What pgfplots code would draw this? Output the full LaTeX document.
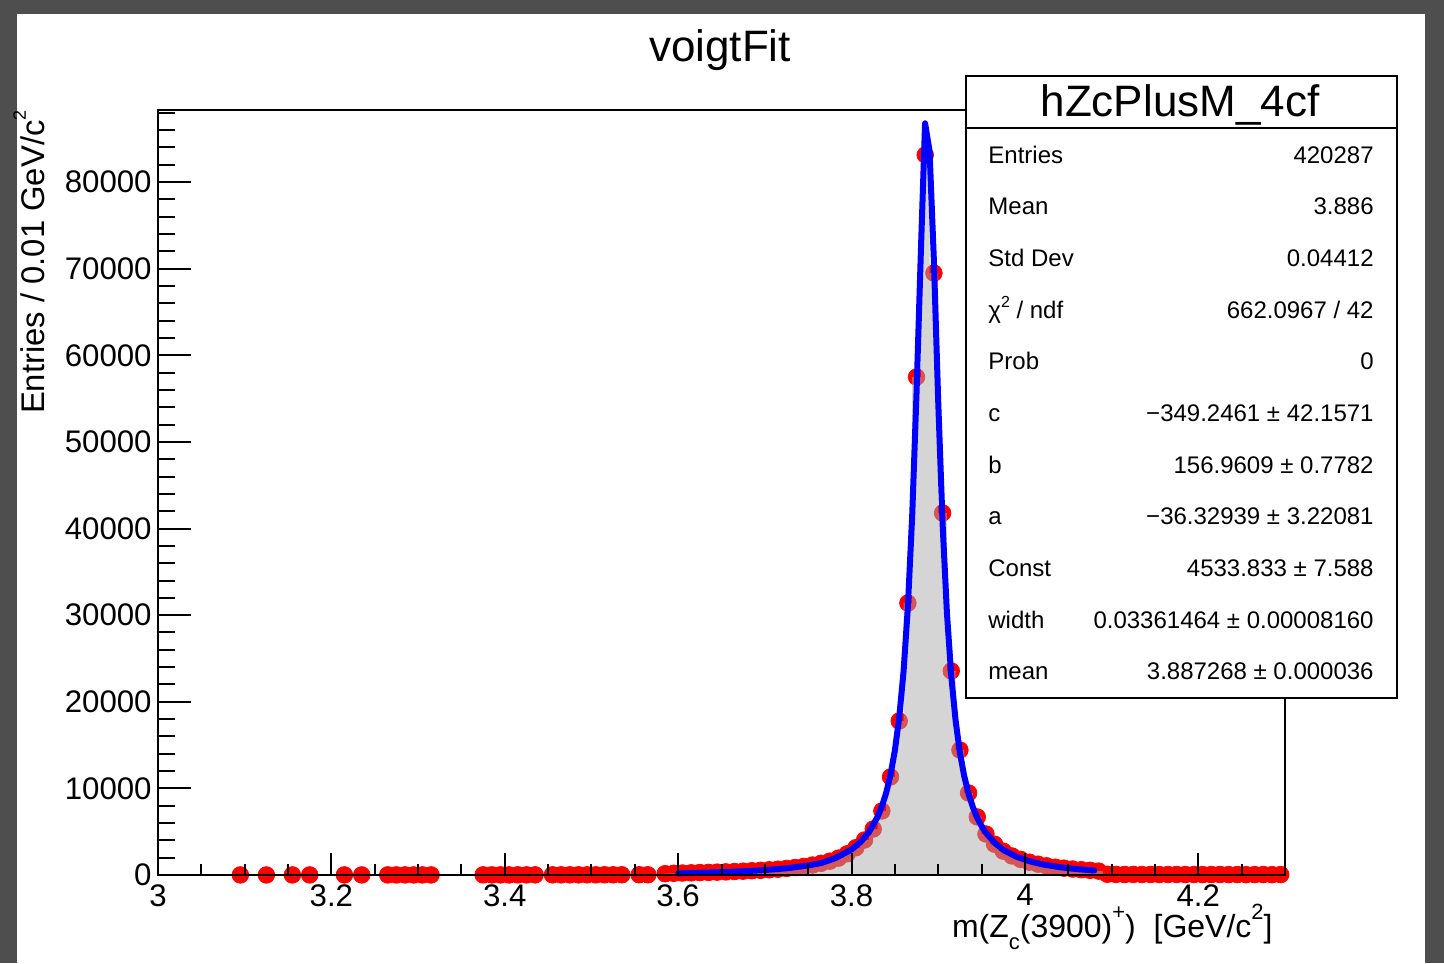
\documentclass[border=0pt]{standalone}
\usepackage{pgfplots}
\pgfplotsset{compat=1.18}
\usepackage{pgfplotstable}
\usepackage{fontspec}
\setmainfont{Liberation Sans}
\definecolor{bgdark}{RGB}{78,78,78}
\definecolor{rootred}{RGB}{255,0,0}
\definecolor{rootblue}{RGB}{0,0,255}

\pgfplotstableread{
x y
3.095 8
3.125 6
3.155 9
3.175 7
3.215 10
3.235 8
3.265 12
3.275 10
3.285 14
3.295 11
3.305 13
3.315 9
3.375 15
3.385 12
3.395 16
3.405 14
3.415 18
3.425 15
3.435 17
3.455 20
3.465 18
3.475 22
3.485 19
3.495 24
3.505 21
3.515 25
3.525 23
3.535 26
3.555 30
3.565 28
}\lowdata

\pgfplotstableread{
x y
3.585 150
3.595 200
3.605 230
3.615 250
3.625 280
3.635 300
3.645 330
3.655 360
3.665 400
3.675 440
3.685 490
3.695 540
3.705 600
3.715 670
3.725 760
3.735 860
3.745 990
3.755 1150
3.765 1350
3.775 1600
3.785 1950
3.795 2450
3.805 3150
3.815 4040
3.825 5310
3.835 7390
3.845 11320
3.855 17780
3.865 31400
3.875 57500
3.885 83140
3.895 69500
3.905 41800
3.915 23560
3.925 14430
3.935 9470
3.945 6700
3.955 4730
3.965 3550
3.975 2750
3.985 2200
3.995 1800
4.005 1480
4.015 1250
4.025 1060
4.035 900
4.045 790
4.055 690
4.065 610
4.075 540
4.085 450
4.095 90
4.105 70
4.115 60
4.125 65
4.135 55
4.145 60
4.155 50
4.165 55
4.175 60
4.185 50
4.195 55
4.205 45
4.215 50
4.225 55
4.235 45
4.245 50
4.255 40
4.265 45
4.275 50
4.285 40
4.295 45
}\maindata

\pgfplotstableread{
x y
3.600 190
3.625 250
3.650 330
3.675 430
3.700 570
3.725 770
3.750 1100
3.765 1380
3.780 1900
3.790 2400
3.800 2950
3.810 3770
3.820 4930
3.830 6700
3.835 7930
3.840 9500
3.845 11600
3.850 14400
3.855 18200
3.860 23500
3.865 31000
3.870 41600
3.875 55800
3.880 72100
3.8848 86800
3.890 83600
3.895 70900
3.900 54600
3.905 40600
3.910 30300
3.915 23000
3.920 17850
3.925 14100
3.930 11400
3.935 9380
3.940 7820
3.945 6600
3.950 5650
3.955 4880
3.965 3720
3.975 2900
3.990 2120
4.005 1600
4.020 1230
4.040 900
4.060 680
4.080 520
}\fitdata

\begin{document}
\begin{tikzpicture}
\useasboundingbox (0,0) rectangle (722pt,481.5pt);
\fill[bgdark] (0,0) rectangle (722pt,481.5pt);
\fill[white] (8.5pt,0) rectangle (712.5pt,474.5pt);

% main axis: data + y ticks
\begin{axis}[
  at={(79pt,44pt)}, anchor=south west,
  scale only axis, width=563.5pt, height=382.5pt,
  xmin=3, xmax=4.3, ymin=0, ymax=88330,
  clip=false, clip marker paths=true,
  axis line style={line width=1pt, black},
  tick style={line width=1pt, black},
  tick align=inside,
  xtick=\empty,
  ytick={0,10000,20000,30000,40000,50000,60000,70000,80000},
  minor ytick={2000,4000,...,88000},
  ytick pos=left,
  major tick length=16.5pt, minor tick length=8.5pt,
  scaled y ticks=false,
  /pgf/number format/assume math mode=true,
  /pgf/number format/1000 sep={},
  yticklabel style={font=\fontsize{15.6}{16}\selectfont, inner sep=2pt, xshift=-1pt},
]
\addplot[only marks, mark=*, mark size=4.15pt, color=rootred, mark options={draw=rootred, fill=rootred}] table {\lowdata};
\addplot[only marks, mark=*, mark size=4.15pt, color=rootred, mark options={draw=rootred, fill=rootred}] table {\maindata};
\addplot[const plot mark mid, draw=none, fill=black!32, fill opacity=0.5] table {\maindata} \closedcycle;
\addplot[color=rootblue, line width=3pt, line join=round, line cap=round] table {\fitdata};
\end{axis}

% overlay axis: x ticks only
\begin{axis}[
  at={(79pt,44pt)}, anchor=south west,
  scale only axis, width=563.5pt, height=382.5pt,
  xmin=3, xmax=4.3, ymin=0, ymax=88330,
  axis line style={line width=1pt, black},
  tick style={line width=1pt, black},
  tick align=inside,
  ytick=\empty,
  xtick={3,3.2,3.4,3.6,3.8,4,4.2},
  minor xtick={3.05,3.1,3.15,3.25,3.3,3.35,3.45,3.5,3.55,3.65,3.7,3.75,3.85,3.9,3.95,4.05,4.1,4.15,4.25},
  xtick pos=left,
  major tick length=11pt, minor tick length=5.5pt,
  /pgf/number format/assume math mode=true,
  /pgf/number format/.cd, fixed, precision=1,
  /pgfplots/.cd,
  xticklabel style={font=\fontsize{15.6}{16}\selectfont, inner sep=2pt, yshift=-2.5pt},
]
\end{axis}

% axis titles
\node[rotate=90, anchor=base east, inner sep=0pt, font=\fontsize{16.4}{16}\selectfont] at (22pt,426.5pt)
  {Entries /  0.01 GeV/c\raisebox{0.55em}{\fontsize{9}{9}\selectfont 2}};
\node[anchor=base east, inner sep=0pt, font=\fontsize{16}{16}\selectfont] at (636.5pt,13pt)
  {m(Z\raisebox{-0.4em}{\fontsize{11}{11}\selectfont c}(3900)\raisebox{0.55em}{\fontsize{11}{11}\selectfont +})\ \ [GeV/c\raisebox{0.55em}{\fontsize{11}{11}\selectfont 2}]};

% title
\node[anchor=base, inner sep=0pt, font=\fontsize{22}{22}\selectfont] at (360pt,450.5pt) {voigtFit};

% stats box
\filldraw[fill=white, draw=black, line width=0.9pt] (483pt,132.5pt) rectangle (698.5pt,443.5pt);
\draw[black, line width=0.9pt] (483pt,417.5pt) -- (698.5pt,417.5pt);
\node[anchor=base, inner sep=0pt, font=\fontsize{22}{22}\selectfont] at (590pt,423.2pt) {hZcPlusM\_4cf};
\begin{scope}[every node/.style={inner sep=0pt, font=\fontsize{12}{12}\selectfont}]
\node[anchor=base west] at (494pt,399.85pt) {Entries};
\node[anchor=base east] at (687pt,399.85pt) {420287};
\node[anchor=base west] at (494pt,374pt) {Mean};
\node[anchor=base east] at (687pt,374pt) {3.886};
\node[anchor=base west] at (494pt,348.15pt) {Std Dev};
\node[anchor=base east] at (687pt,348.15pt) {0.04412};
\node[anchor=base west] at (494pt,322.35pt) {χ\raisebox{0.45em}{\fontsize{8}{8}\selectfont 2} / ndf};
\node[anchor=base east] at (687pt,322.35pt) {662.0967 / 42};
\node[anchor=base west] at (494pt,296.5pt) {Prob};
\node[anchor=base east] at (687pt,296.5pt) {0};
\node[anchor=base west] at (494pt,270.65pt) {c};
\node[anchor=base east] at (687pt,270.65pt) {−349.2461 ± 42.1571};
\node[anchor=base west] at (494pt,244.85pt) {b};
\node[anchor=base east] at (687pt,244.85pt) {156.9609 ± 0.7782};
\node[anchor=base west] at (494pt,219pt) {a};
\node[anchor=base east] at (687pt,219pt) {−36.32939 ± 3.22081};
\node[anchor=base west] at (494pt,193.15pt) {Const};
\node[anchor=base east] at (687pt,193.15pt) {4533.833 ± 7.588};
\node[anchor=base west] at (494pt,167.35pt) {width};
\node[anchor=base east] at (687pt,167.35pt) {0.03361464 ± 0.00008160};
\node[anchor=base west] at (494pt,141.5pt) {mean};
\node[anchor=base east] at (687pt,141.5pt) {3.887268 ± 0.000036};
\end{scope}
\end{tikzpicture}
\end{document}
